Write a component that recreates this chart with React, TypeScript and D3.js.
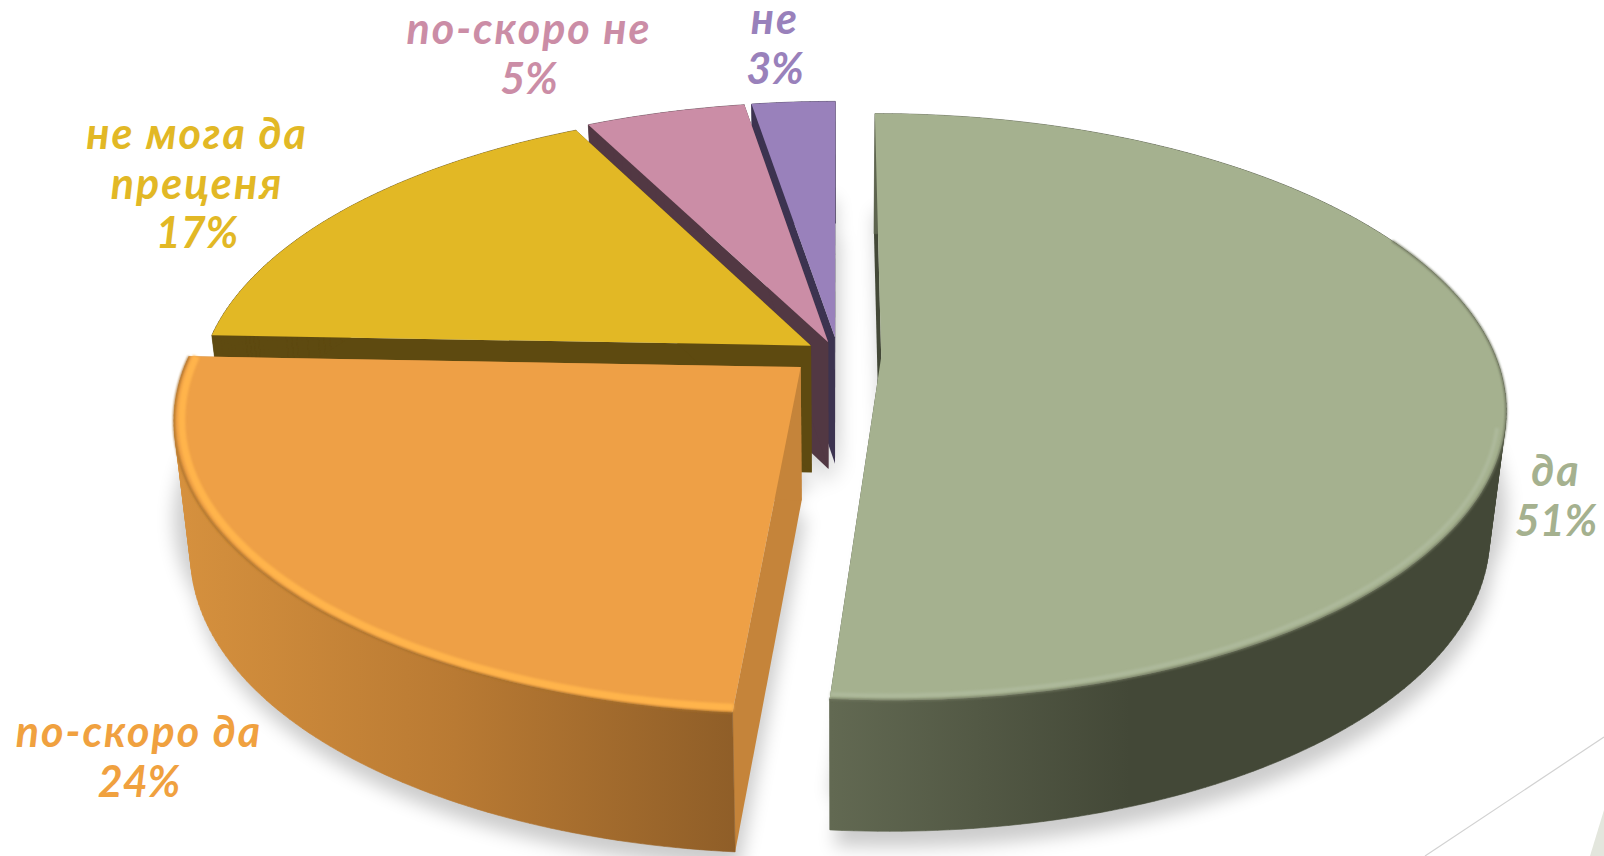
import React from "react";
import * as d3 from "d3";

const categories = ["да", "по-скоро да", "не мога да преценя", "по-скоро не", "не"];
const shares = [51.3, 24.3, 16.9, 4.9, 2.6];
// where each slice's tip sits after being pulled out, radius = 1
const offsetU = [0.07, -0.06, -0.044, -0.016, -0.005];
const offsetV = [0, 0.035, -0.04, -0.052, -0.07];
const radii = [0.996, 0.993, 0.985, 1.0, 0.985];
const depths = [125, 133, 127, 127, 127];
const labelLines = [["да"], ["по-скоро да"], ["не мога да", "преценя"], ["по-скоро не"], ["не"]];
const labelPos = [[1556, 486], [139, 747], [197, 149], [529, 44], [775, 34]];
const topColors = ["#a5b18f", "#eea046", "#e2b825", "#cb8da6", "#9981bb"];
const wallColors = ["#434837", "#c5843a", "#5e4a10", "#523843", "#3c3350"];
const labelColors = ["#a5b18f", "#f0a13f", "#e2b825", "#cb8da6", "#9981bb"];

const width = 1604;
const height = 856;
const cx = 838;
const cy = 357;
const rx = 617;
const ry = 286;
const persp = 0.171;
const bottomScale = 0.975;

const x = d3.scaleLinear().domain([-1, 1]).range([cx - rx, cx + rx]);
const y = d3.scaleLinear().domain([-1, 1]).range([cy - ry, cy + ry]);

// disc coordinates -> screen, front of the disc is bigger than the back
function project(u: number, v: number, down = 0): [number, number] {
  const w = 1 - persp * v;
  const sx = x(u / w);
  if (down === 0) return [sx, y(v / w)];
  const drop = down * Math.pow(1 / w, 0.25);
  return [cx + (sx - cx) * bottomScale, y(v / w) + drop];
}

const pie = d3.pie<number>().sort(null).value((d) => d);
const arcs = pie(shares);
const line = d3.line();

function arcPoints(i: number, a0: number, a1: number, r: number) {
  const n = Math.max(8, Math.ceil((a1 - a0) * 60));
  return d3.range(n + 1).map((k) => {
    const a = a0 + ((a1 - a0) * k) / n;
    return [offsetU[i] + r * Math.sin(a), offsetV[i] - r * Math.cos(a)] as [number, number];
  });
}

function buildSlice(i: number) {
  const a = arcs[i];
  const disc = arcPoints(i, a.startAngle, a.endAngle, radii[i]);
  const rim = disc.map((p) => project(p[0], p[1]));
  const rimLow = disc.map((p) => project(p[0], p[1], depths[i]));
  const apex = project(offsetU[i], offsetV[i]);
  const apexLow = project(offsetU[i], offsetV[i], depths[i]);
  const first = rim[0];
  const last = rim[rim.length - 1];
  // the wall as a strip of quads, so the sides of the drum close properly.
  // all wound the same way, or overlapping quads cancel out and leave holes
  const quads = d3
    .range(rim.length - 1)
    .map((k) => {
      const q: [number, number][] = [rim[k], rim[k + 1], rimLow[k + 1], rimLow[k]];
      if (d3.polygonArea(q) < 0) q.reverse();
      return line(q)! + "Z";
    })
    .join("");
  const rimStart = i === 0 ? (64 * Math.PI) / 180 : a.startAngle;
  const rimLine = (r: number, from = rimStart) =>
    line(arcPoints(i, from, a.endAngle, radii[i] * r).map((p) => project(p[0], p[1])))!;
  return {
    top: line([apex, ...rim])! + "Z",
    outer: quads,
    wallA: line([apex, first, rimLow[0], apexLow])! + "Z",
    wallB: line([apex, last, rimLow[rimLow.length - 1], apexLow])! + "Z",
    rimEdge: rimLine(1),
    rimInner: rimLine(0.988, i === 0 ? (104 * Math.PI) / 180 : rimStart),
    shadowA: line([apex, ...rim].map((p) => [p[0], p[1] + 98] as [number, number]))! + "Z",
    shadowB: line([apexLow, ...rimLow].map((p) => [p[0] + 4, p[1] + 16] as [number, number]))! + "Z",
  };
}

const slices = arcs.map((_, i) => buildSlice(i));
const drawOrder = [4, 3, 2, 1, 0];

function App() {
  return (
    <svg
      width={width}
      height={height}
      viewBox={`0 0 ${width} ${height}`}
      style={{ position: "absolute", left: 0, top: 0, background: "#fff" }}
    >
      <defs>
        <filter id="soft" x="-20%" y="-20%" width="140%" height="140%">
          <feGaussianBlur stdDeviation="9" />
        </filter>
        <filter id="rimBlur" x="-5%" y="-5%" width="110%" height="110%">
          <feGaussianBlur stdDeviation="1.3" />
        </filter>
        <linearGradient id="wall0" gradientUnits="userSpaceOnUse" x1={831} x2={1130} y1={0} y2={0}>
          <stop offset="0" stopColor="#626952" />
          <stop offset="1" stopColor="#434837" />
        </linearGradient>
        <linearGradient id="wall1" gradientUnits="userSpaceOnUse" x1={175} x2={735} y1={0} y2={0}>
          <stop offset="0" stopColor="#d6913e" />
          <stop offset="0.5" stopColor="#b97a33" />
          <stop offset="1" stopColor="#8f5e28" />
        </linearGradient>
      </defs>

      {/* slide decoration in the corner */}
      <line x1={1604} y1={737} x2={1425} y2={856} stroke="#d2d2d2" strokeWidth={1.2} />
      <path d={line([[1604, 810], [1604, 856], [1590, 856]])! + "Z"} fill="#e3e6dd" />

      <g filter="url(#soft)" opacity={0.2}>
        {slices.map((s, i) => (
          <g key={i}>
            <path d={s.shadowA} fill="#000" />
            <path d={s.shadowB} fill="#000" />
          </g>
        ))}
      </g>

      {drawOrder.map((i) => {
        const s = slices[i];
        const outerFill = i < 2 ? `url(#wall${i})` : wallColors[i];
        return (
          <g key={categories[i]}>
            <path d={s.wallA} fill={wallColors[i]} />
            <path d={s.wallB} fill={wallColors[i]} />
            <path d={s.outer} fill={outerFill} stroke={outerFill} strokeWidth={0.6} />
            <path d={s.top} fill={topColors[i]} />
            {i === 0 && (
              <>
                <path d={s.rimInner} fill="none" stroke="#adb99b" strokeWidth={4} filter="url(#rimBlur)" />
                <path d={s.rimEdge} fill="none" stroke="#6f765e" strokeWidth={2} filter="url(#rimBlur)" />
              </>
            )}
            {i === 1 && (
              <>
                <path d={s.rimEdge} fill="none" stroke="#a8702c" strokeWidth={2} filter="url(#rimBlur)" />
                <path d={s.rimInner} fill="none" stroke="#ffb44c" strokeWidth={7} filter="url(#rimBlur)" />
              </>
            )}
          </g>
        );
      })}

      {labelLines.map((lines, i) => (
        <text
          key={i}
          textAnchor="middle"
          fontFamily="Lato, 'Open Sans', sans-serif"
          fontStyle="italic"
          fontWeight={700}
          fontSize={43}
          fill={labelColors[i]}
        >
          {lines.map((t, j) => (
            <tspan key={j} x={labelPos[i][0]} y={labelPos[i][1] + j * 49.5} letterSpacing={2}>
              {t}
            </tspan>
          ))}
          <tspan x={labelPos[i][0]} y={labelPos[i][1] + lines.length * 49.5}>
            {`${Math.round(shares[i])}%`}
          </tspan>
        </text>
      ))}
    </svg>
  );
}

export default App;
